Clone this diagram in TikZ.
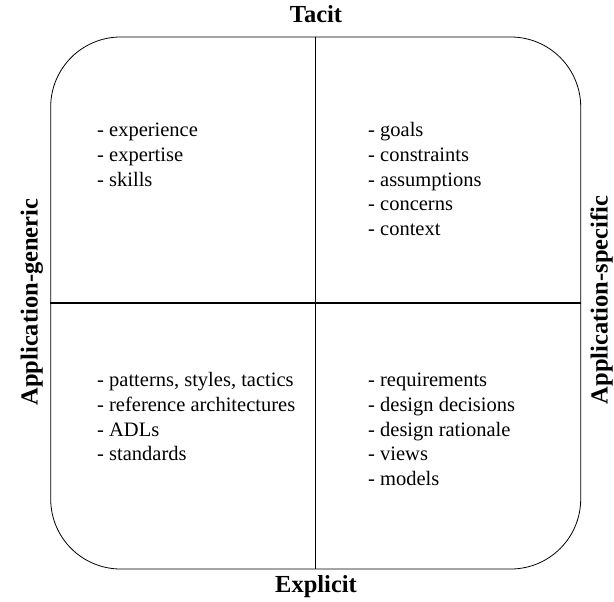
\documentclass[tikz,border=0pt]{standalone}
\usepackage{fontspec}
\setmainfont{Liberation Serif}
\begin{document}
\begin{tikzpicture}[x=1bp,y=-1bp,
  quad/.style={draw, line width=0.8bp, rounded corners=70bp, minimum width=530bp, minimum height=532bp, inner sep=0pt},
  divider/.style={line width=1.2bp},
  axislabel/.style={font=\fontsize{24.5bp}{29bp}\selectfont\bfseries, inner sep=0pt},
  itemlist/.style={font=\fontsize{20.5bp}{24.8bp}\selectfont, align=left, anchor=north west, inner sep=0pt}]
\useasboundingbox (0,0) rectangle (614,602);
\node[quad] (box) at (315.7,303) {};
\draw[divider] (box.north) -- (box.south);
\draw[divider] (box.west) -- (box.east);
\node[axislabel, anchor=base] (tacit) at (316,23) {Tacit};
\node[axislabel, anchor=base] (explicit) at (316,592) {Explicit};
\node[axislabel, anchor=base, rotate=90] (generic) at (37.5,302) {Application-generic};
\node[axislabel, anchor=base, rotate=90] (specific) at (607.5,300) {Application-specific};
\node[itemlist] (tl) at (97,119) {\strut- experience\\- expertise\\- skills};
\node[itemlist] (tr) at (368,119) {\strut- goals\\- constraints\\- assumptions\\- concerns\\- context};
\node[itemlist] (bl) at (97,369) {\strut- patterns, styles, tactics\\- reference architectures\\- ADLs\\- standards};
\node[itemlist] (br) at (368,369) {\strut- requirements\\- design decisions\\- design rationale\\- views\\- models};
\end{tikzpicture}
\end{document}
